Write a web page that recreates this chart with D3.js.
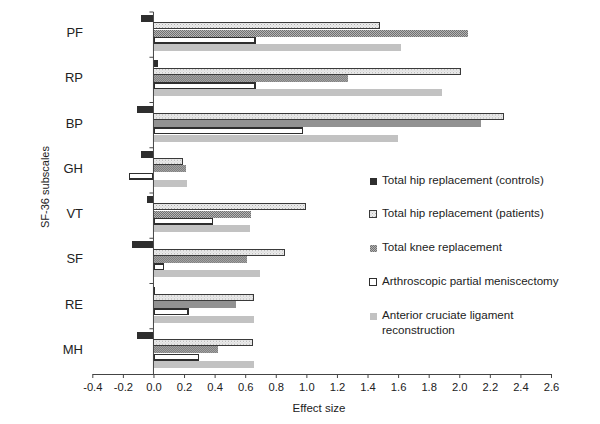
<!DOCTYPE html>
<html>
<head>
<meta charset="utf-8">
<script src="https://cdn.jsdelivr.net/npm/d3@7"></script>
<style>
  body { margin: 0; background: #fff; }
  svg { display: block; font-family: "Liberation Sans", Arial, sans-serif; }
</style>
</head>
<body>
<svg id="chart" width="600" height="424"></svg>
<script>
const categories = ["PF", "RP", "BP", "GH", "VT", "SF", "RE", "MH"];
const seriesNames = [
  "Total hip replacement (controls)",
  "Total hip replacement (patients)",
  "Total knee replacement",
  "Arthroscopic partial meniscectomy",
  "Anterior cruciate ligament reconstruction"
];
const thrControls = [-0.08, 0.03, -0.11, -0.08, -0.04, -0.14, 0.01, -0.11];
const thrPatients = [1.48, 2.01, 2.29, 0.19, 1.00, 0.86, 0.66, 0.65];
const tkr         = [2.06, 1.27, 2.14, 0.21, 0.64, 0.61, 0.54, 0.42];
const apm         = [0.67, 0.67, 0.98, -0.16, 0.39, 0.07, 0.23, 0.30];
const aclr        = [1.62, 1.89, 1.60, 0.22, 0.63, 0.70, 0.66, 0.66];
const xTicks = [-0.4, -0.2, 0, 0.2, 0.4, 0.6, 0.8, 1.0, 1.2, 1.4, 1.6, 1.8, 2.0, 2.2, 2.4, 2.6];

const seriesValues = [thrControls, thrPatients, tkr, apm, aclr];

const svg = d3.select("#chart");
const defs = svg.append("defs");

// dotted light pattern (THR patients)
const p1 = defs.append("pattern").attr("id", "pDots").attr("patternUnits", "userSpaceOnUse")
  .attr("width", 3).attr("height", 3);
p1.append("rect").attr("width", 3).attr("height", 3).attr("fill", "#ececec");
p1.append("rect").attr("x", 0).attr("y", 0).attr("width", 1).attr("height", 1).attr("fill", "#b0b0b0");
p1.append("rect").attr("x", 1.5).attr("y", 1.5).attr("width", 1).attr("height", 1).attr("fill", "#c4c4c4");

// checker pattern (TKR)
const p2 = defs.append("pattern").attr("id", "pCheck").attr("patternUnits", "userSpaceOnUse")
  .attr("width", 2).attr("height", 2);
p2.append("rect").attr("width", 2).attr("height", 2).attr("fill", "#b4b4b4");
p2.append("rect").attr("x", 0).attr("y", 0).attr("width", 1).attr("height", 1).attr("fill", "#707070");
p2.append("rect").attr("x", 1).attr("y", 1).attr("width", 1).attr("height", 1).attr("fill", "#707070");

const styles = [
  { fill: "#2e2e2e", stroke: "none", sw: 0 },
  { fill: "url(#pDots)", stroke: "#3a3a3a", sw: 1 },
  { fill: "url(#pCheck)", stroke: "none", sw: 0 },
  { fill: "#ffffff", stroke: "#2e2e2e", sw: 1.5 },
  { fill: "#c2c2c2", stroke: "none", sw: 0 }
];

const plotTop = 12, plotBottom = 374;
const x = d3.scaleLinear().domain([-0.4, 2.6]).range([92.3, 551]);
const y = d3.scaleBand().domain(categories).range([plotTop, plotBottom]).paddingInner(0).paddingOuter(0);
const inner = d3.scaleBand().domain(d3.range(seriesNames.length))
  .range([y.bandwidth() * 0.07, y.bandwidth() * 0.87]).padding(0);

// bars
const groups = svg.append("g").selectAll("g").data(categories).join("g")
  .attr("transform", d => `translate(0,${y(d)})`);

groups.each(function(cat, ci) {
  const g = d3.select(this);
  seriesValues.forEach((vals, si) => {
    const v = vals[ci];
    const st = styles[si];
    const x0 = x(Math.min(0, v)), x1 = x(Math.max(0, v));
    const inset = st.sw ? st.sw / 2 : 0;
    g.append("rect")
      .attr("x", x0 + inset)
      .attr("y", inner(si) + inset)
      .attr("width", Math.max(0, x1 - x0 - 2 * inset))
      .attr("height", inner.bandwidth() - 2 * inset - 0.3)
      .attr("fill", st.fill)
      .attr("stroke", st.stroke)
      .attr("stroke-width", st.sw)
      .attr("shape-rendering", "crispEdges");
  });
});

// x axis
const fmt = d3.format(".1f");
const xAxis = d3.axisBottom(x).tickValues(xTicks).tickSize(4).tickSizeOuter(0)
  .tickFormat(d => fmt(d).replace("\u2212", "-"));
const gx = svg.append("g").attr("transform", `translate(0,${plotBottom})`).call(xAxis);
gx.select(".domain").attr("stroke", "#444");
gx.selectAll(".tick line").attr("stroke", "#444");
gx.selectAll(".tick text").attr("font-size", 11.2).attr("fill", "#222")
  .attr("font-family", "Liberation Sans, Arial, sans-serif").attr("dy", "0.9em");

// y axis at x=0
const gy = svg.append("g").attr("transform", `translate(${x(0)},0)`);
gy.append("line").attr("x1", 0).attr("x2", 0).attr("y1", plotTop).attr("y2", plotBottom)
  .attr("stroke", "#444");
const bounds = categories.map(c => y(c));
gy.selectAll("line.tk").data(bounds).join("line").attr("class", "tk")
  .attr("x1", -4).attr("x2", 0).attr("y1", d => d).attr("y2", d => d).attr("stroke", "#444");

// category labels
svg.append("g").selectAll("text").data(categories).join("text")
  .attr("x", 83).attr("y", d => y(d) + y.bandwidth() / 2 - 1)
  .attr("text-anchor", "end").attr("dominant-baseline", "middle")
  .attr("font-size", 13).attr("fill", "#222").text(d => d);

// axis titles
svg.append("text").attr("x", 319).attr("y", 412).attr("text-anchor", "middle")
  .attr("font-size", 11.5).attr("fill", "#222").text("Effect size");
svg.append("text").attr("transform", "translate(49,187) rotate(-90)").attr("text-anchor", "middle")
  .attr("font-size", 11).attr("fill", "#222").text("SF-36 subscales");

// legend
const legendY = [181, 214, 248, 282, 316];
const lg = svg.append("g");
seriesNames.forEach((name, i) => {
  const st = styles[i];
  lg.append("rect").attr("x", 369.5).attr("y", legendY[i] - 3.5).attr("width", 7).attr("height", 7)
    .attr("fill", st.fill).attr("stroke", st.stroke === "none" ? "none" : st.stroke)
    .attr("stroke-width", st.sw ? 1 : 0).attr("shape-rendering", "crispEdges");
  const t = lg.append("text").attr("x", 382).attr("y", legendY[i]).attr("dominant-baseline", "middle")
    .attr("font-size", 11.6).attr("fill", "#222");
  if (i === 4) {
    t.append("tspan").attr("x", 382).text("Anterior cruciate ligament");
    t.append("tspan").attr("x", 382).attr("dy", 15).text("reconstruction");
  } else {
    t.text(name);
  }
});
</script>
</body>
</html>
